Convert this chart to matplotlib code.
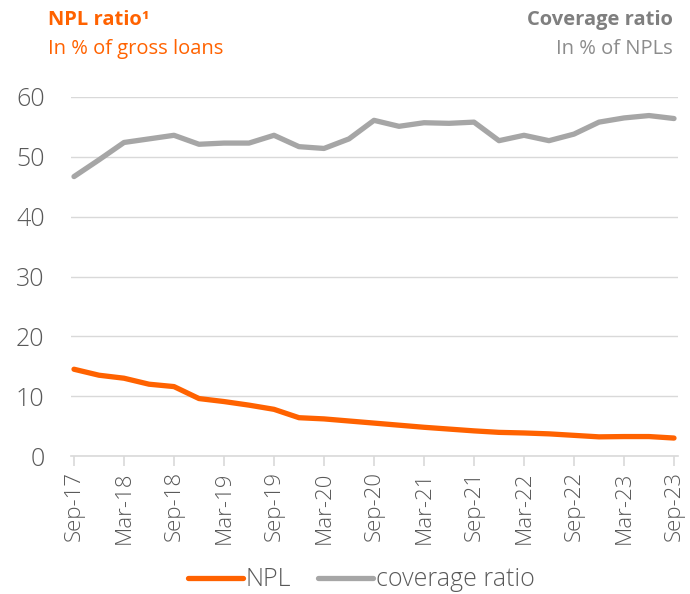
import matplotlib.pyplot as plt

plt.rcParams['font.family'] = ['Open Sans', 'DejaVu Sans']

orange = '#FF6200'
grey = '#A6A6A6'
text_grey = '#595959'

labels = ['Sep-17', 'Mar-18', 'Sep-18', 'Mar-19', 'Sep-19', 'Mar-20', 'Sep-20',
          'Mar-21', 'Sep-21', 'Mar-22', 'Sep-22', 'Mar-23', 'Sep-23']
quarters = list(range(25))
npl = [14.5, 13.5, 13.0, 12.0, 11.6, 9.6, 9.1, 8.5, 7.8, 6.4, 6.2, 5.85, 5.5,
       5.15, 4.8, 4.5, 4.2, 3.95, 3.85, 3.7, 3.45, 3.2, 3.25, 3.25, 3.0]
coverage = [46.7, 49.5, 52.4, 53.0, 53.6, 52.1, 52.3, 52.3, 53.6, 51.7, 51.4, 53.0,
            56.1, 55.1, 55.7, 55.6, 55.8, 52.7, 53.6, 52.7, 53.8, 55.8, 56.5, 56.9, 56.4]

fig = plt.figure(figsize=(6.9, 5.94), dpi=100)
ax = fig.add_axes([71 / 690, 1 - 456 / 594, 607 / 690, 359 / 594])

ax.plot(quarters, npl, color=orange, lw=3.8, solid_capstyle='round', label='NPL', zorder=3)
ax.plot(quarters, coverage, color=grey, lw=3.8, solid_capstyle='round',
        label='coverage ratio', zorder=3)

ax.set_xlim(-0.12, 24.16)
ax.set_ylim(0, 60)
ax.set_yticks(range(0, 61, 10))
ax.set_xticks(range(0, 25, 2))
ax.set_xticklabels(labels, rotation=90, fontweight='light')
for t in ax.get_yticklabels():
    t.set_fontweight('light')
ax.grid(axis='y', color='#D9D9D9', lw=1)
ax.set_axisbelow(True)
for s in ['top', 'right', 'left']:
    ax.spines[s].set_visible(False)
ax.spines['bottom'].set_color('#D9D9D9')
ax.spines['bottom'].set_linewidth(1.2)
ax.tick_params(axis='x', colors=text_grey, labelsize=16, length=7, width=1.2,
               color='#D9D9D9', pad=4)
ax.tick_params(axis='y', colors=text_grey, labelsize=18, length=0, pad=19)

# titles
fig.text(48 / 690, 1 - 20 / 594, 'NPL ratio¹', color=orange, fontsize=14.5,
         fontweight='bold', va='center')
fig.text(48 / 690, 1 - 49 / 594, 'In % of gross loans', color=orange, fontsize=14.5,
         va='center')
fig.text(673 / 690, 1 - 20 / 594, 'Coverage ratio', color='#7F7F7F', fontsize=14.5,
         fontweight='bold', va='center', ha='right')
fig.text(673 / 690, 1 - 49 / 594, 'In % of NPLs', color='#8C8C8C', fontsize=14.5,
         va='center', ha='right')

fig.legend(loc='center', bbox_to_anchor=(361 / 690, 1 - 580 / 594), ncol=2,
           frameon=False, handlelength=2.2, handletextpad=0.1, columnspacing=1.1,
           labelcolor=text_grey, prop={'size': 18, 'weight': 'light'})

fig.savefig('out.png', dpi=100)
